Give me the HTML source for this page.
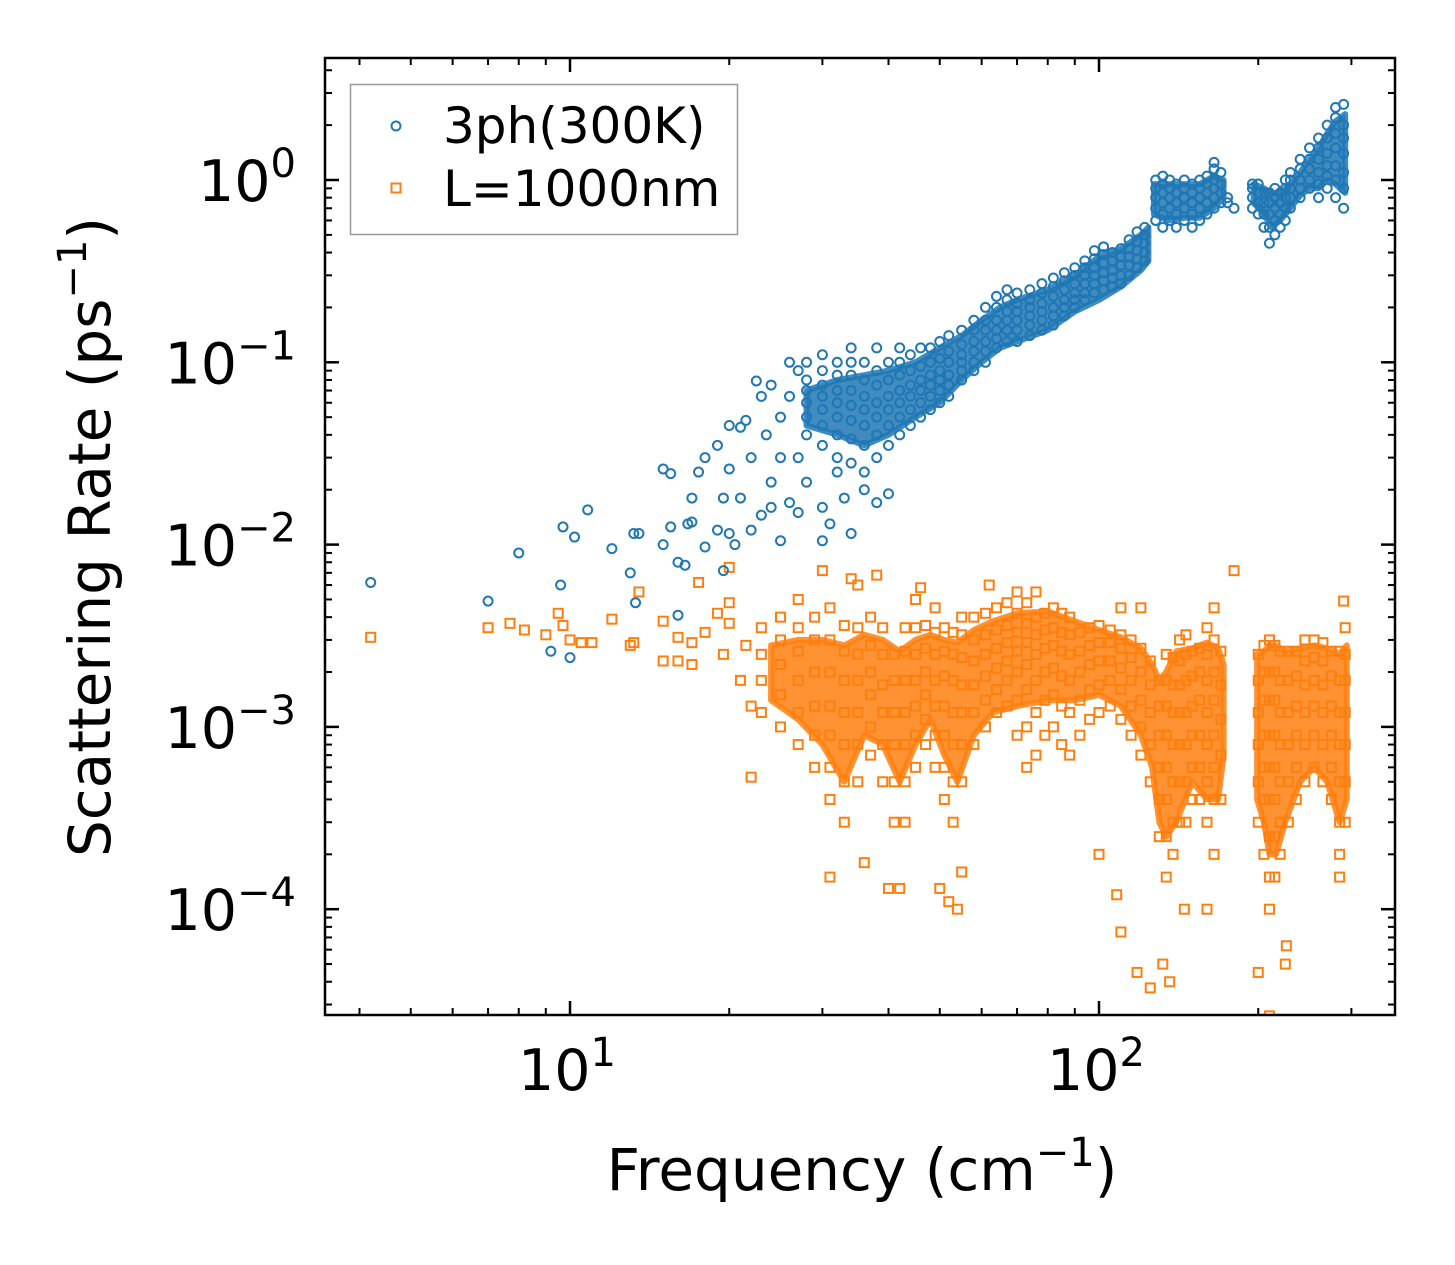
<!DOCTYPE html>
<html><head><meta charset="utf-8">
<style>
html,body{margin:0;padding:0;background:#fff;}
svg{display:block;font-family:"DejaVu Sans","Liberation Sans",sans-serif;}
</style></head>
<body>
<svg id="chart" width="1455" height="1265" viewBox="0 0 1455 1265" xmlns="http://www.w3.org/2000/svg">
<rect width="1455" height="1265" fill="#fff"/>
<defs><clipPath id="plotclip"><rect x="325" y="58" width="1070" height="957"/></clipPath></defs>
<g id="marks" clip-path="url(#plotclip)"></g>
<g id="ticks"></g>
<rect x="325" y="58" width="1070" height="957" fill="none" stroke="#000" stroke-width="2.5"/>
<text x="862" y="1190" font-size="58" text-anchor="middle">Frequency (cm<tspan dy="-24" font-size="40">−1</tspan><tspan dy="24">)</tspan></text>
<text transform="translate(110,537) rotate(-90)" font-size="58" text-anchor="middle">Scattering Rate (ps<tspan dy="-24" font-size="40">−1</tspan><tspan dy="24">)</tspan></text>
<g>
<rect x="350.5" y="84.5" width="387" height="150" fill="#fff" stroke="#999" stroke-width="1.5"/>
<circle cx="396" cy="126" r="4.5" fill="none" stroke="#1f77b4" stroke-width="2"/>
<text x="443" y="143" font-size="50">3ph(300K)</text>
<rect x="391.5" y="183.5" width="9" height="9" fill="none" stroke="#ff7f0e" stroke-width="2"/>
<text x="443" y="206" font-size="50">L=1000nm</text>
</g>
</svg>
<script>
const xTickDecades = [1, 2];
const xTickLabels = ["1", "2"];
const yTickDecades = [0, -1, -2, -3, -4];
const yTickLabels = ["0", "−1", "−2", "−3", "−4"];
const blueScatter = [[4.2,.0062],[7,.0049],[8,.009],[9.2,.0026],[9.6,.006],[9.7,.0125],[10,.0024],[10.2,.011],[10.8,.0155],[12,.0095],[13,.007],[13.2,.0115],[13.5,.0115],[13.3,.0048],[15,.01],[15,.026],[15.5,.0125],[15.5,.0245],[16,.008],[16.5,.0077],[16.7,.013],[17,.018],[17,.0133],[17.5,.025],[18,.0097],[18,.03],[19,.012],[19,.035],[19.5,.018],[19.5,.0072],[20,.026],[20,.045],[20.5,.01],[21,.044],[21,.018],[21.5,.048],[22,.012],[22,.03],[22.5,.079],[23,.065],[23,.0145],[23.5,.04],[24,.022],[24,.075],[25,.05],[25,.03],[25,.0105],[26,.1],[26,.065],[26,.017],[27,.09],[27,.03],[27,.015],[30,.016],[31,.013],[33,.018],[34,.0115],[36,.02],[38,.017],[40,.019],[30,.0105],[16,.0041],[20,.0115],[24,.016],[28,.022],[32,.025]];
const blueFreqs = [28,30,32,34,36,38,40,42,44,46,48,50,52,55,58,61,64,67,70,74,78,82,86,90,94,98,102,106,110,114,118,122,128,132,136,140,145,150,155,160,165,170,175,180,195,200,205,210,215,220,225,230,240,250,260,270,280,290];
const blueRates = [[.04,.05,.06,.07,.08,.1],[.035,.045,.055,.065,.075,.09,.11],[.03,.04,.05,.06,.07,.085,.1],[.028,.038,.048,.058,.07,.085,.1,.12],[.025,.035,.045,.055,.065,.08,.1],[.03,.04,.05,.06,.075,.09,.12],[.035,.045,.055,.065,.08,.1],[.04,.05,.06,.07,.085,.1,.12],[.045,.055,.065,.075,.09,.11],[.05,.06,.07,.08,.095,.12],[.055,.065,.075,.085,.1,.12],[.06,.07,.08,.09,.105,.13],[.065,.075,.085,.1,.115,.14],[.08,.09,.1,.11,.125,.15],[.09,.1,.115,.13,.15,.17],[.1,.115,.13,.15,.17,.2],[.12,.135,.15,.17,.2,.23],[.13,.15,.17,.19,.22,.25],[.13,.15,.17,.19,.21,.24],[.14,.16,.18,.2,.22,.25],[.15,.17,.19,.21,.24,.27],[.16,.18,.2,.23,.26,.29],[.18,.2,.22,.25,.28,.31],[.2,.22,.24,.27,.3,.33],[.22,.24,.27,.3,.33,.36],[.24,.27,.3,.33,.37,.41],[.25,.28,.31,.35,.39,.43],[.26,.29,.32,.36,.4],[.27,.3,.34,.38,.42],[.3,.34,.38,.42,.47],[.33,.37,.41,.46,.52],[.36,.4,.45,.5,.55],[.6,.7,.8,.9,1.0],[.55,.65,.75,.85,.95,1.05],[.6,.7,.8,.9,1.0],[.55,.65,.75,.85,.95],[.6,.7,.8,.9,1.0],[.55,.65,.75,.85,.95],[.6,.7,.8,.9,1.0],[.65,.75,.85,.95,1.05],[.7,.8,.9,1.0,1.15,1.25],[.75,.85,.95,1.1],[.75,.8],[.7],[.7,.8,.9,.95],[.65,.75,.85,.95],[.55,.65,.75,.85],[.45,.55,.65,.75,.85],[.5,.6,.7,.8,.9],[.55,.65,.75,.85],[.6,.7,.8,.9,1.0],[.7,.8,.9,1.0,1.1],[.8,.9,1.0,1.15,1.3],[.9,1.0,1.15,1.3,1.5],[.8,.95,1.1,1.3,1.5,1.7],[.9,1.05,1.2,1.4,1.7,2.0],[.8,1.0,1.2,1.5,1.8,2.2,2.5],[.7,.9,1.1,1.4,1.7,2.0,2.6]];
const blueBandFreqs = [[28,32,36,40,45,50,55,60,65,70,80,90,100,110,120,124],[127,135,145,155,165,172],[196,205,212,220,230,240,250,260,270,280,292]];
const blueBandLow = [[.045,.04,.035,.04,.05,.06,.08,.1,.12,.13,.15,.19,.22,.26,.32,.36],[.65,.6,.62,.62,.7,.8],[.75,.65,.55,.6,.7,.82,.9,.9,1.0,.95,.85]];
const blueBandHigh = [[.07,.08,.085,.09,.1,.12,.14,.17,.2,.22,.25,.3,.38,.42,.5,.55],[.95,.95,.95,.95,1.05,1.0],[.95,.9,.85,.85,.95,1.1,1.3,1.5,1.8,2.1,2.3]];
const orangeScatter = [[4.2,.0031],[7,.0035],[7.7,.0037],[8.2,.0034],[9,.0032],[9.5,.0042],[9.7,.0036],[10,.003],[10.5,.0029],[11,.0029],[12,.0039],[13,.0028],[13.2,.0029],[13.5,.0055],[15,.0023],[15,.0038],[16,.0031],[16,.0023],[17,.0029],[17,.0022],[17.5,.0062],[18,.0033],[19,.0042],[19.5,.0025],[20,.0075],[20,.0037],[20,.0048],[21,.0018],[22,.0013],[22,.00053],[21.5,.0028],[31,.00015],[36,.00018],[40,.00013],[42,.00013],[50,.00013],[52,.00011],[54,.0001],[55,.00016],[100,.0002],[108,.00012],[110,.000075],[118,.000045],[125,.000037],[132,.00005],[136,.00004],[145,.0001],[160,.0001],[180,.0072],[200,.000045],[210,.000026],[225,.00005],[226,.000063],[285,.00015],[290,.0049],[110,.0045],[120,.0045],[165,.0045],[30,.0072],[34,.0065],[38,.0068],[46,.0058],[62,.006]];
const orangeFreqs = [23,25,27,29,31,33,35,37,39,41,43,45,47,49,51,53,55,58,61,64,67,70,73,76,79,82,85,88,92,96,100,105,110,115,120,125,130,134,138,142,146,150,155,160,165,170,200,205,210,215,220,228,236,245,255,265,275,285,292];
const orangeRates = [[.0012,.0018,.0025,.0035],[.001,.0015,.0022,.003,.004],[.0008,.0012,.0018,.0026,.0035,.005],[.0006,.0009,.0013,.002,.003,.004],[.0004,.0006,.0009,.0013,.002,.003,.0045],[.0003,.0005,.0008,.0012,.0018,.0026,.0036],[.0005,.0008,.0012,.0018,.0025,.0035,.006],[.0007,.001,.0015,.002,.0028,.004],[.0005,.0008,.0012,.0017,.0025,.0035],[.0003,.0005,.0008,.0012,.0018,.0025],[.0003,.0005,.0008,.0012,.0018,.0026,.0035],[.0006,.0009,.0013,.0018,.0025,.0035,.005],[.0008,.0011,.0015,.002,.0027,.0036],[.0006,.0009,.0013,.0018,.0025,.0033,.0045],[.0004,.0006,.0009,.0013,.0019,.0026,.0035],[.0003,.0005,.0008,.0012,.0018,.0025,.0033],[.0005,.0008,.0012,.0017,.0024,.0032,.004],[.0008,.0012,.0017,.0023,.003,.004],[.001,.0014,.0019,.0025,.0032,.0042],[.0012,.0016,.0021,.0027,.0034,.0045],[.0013,.0018,.0023,.0029,.0036,.0048],[.0009,.0014,.002,.0026,.0033,.0042,.0055],[.0006,.001,.0016,.0022,.0029,.0037,.0048],[.0007,.0012,.0018,.0025,.0032,.004,.0055],[.0009,.0014,.002,.0027,.0034,.0042],[.001,.0015,.0021,.0028,.0035,.0045],[.0008,.0013,.0019,.0026,.0033,.0042],[.0007,.0012,.0018,.0025,.0032,.004],[.0009,.0014,.002,.0026,.0033],[.0011,.0016,.0022,.0028,.0035],[.0012,.0017,.0023,.0029,.0036],[.0013,.0018,.0023,.0029,.0034],[.0011,.0016,.0021,.0027,.0032],[.0009,.0013,.0018,.0024,.003],[.0007,.001,.0014,.002,.0027],[.0005,.0008,.0012,.0017,.0023],[.00025,.0004,.0006,.0009,.0013,.0018],[.00015,.00025,.0004,.0006,.0009,.0013,.0018,.0025],[.0002,.0003,.0005,.0008,.0012,.0017,.0024],[.0003,.0005,.0008,.0012,.0017,.0023,.003],[.0003,.0005,.0008,.0012,.0018,.0025,.0032],[.0004,.0006,.0009,.0013,.0019,.0026],[.0004,.0006,.0009,.0014,.002,.0027],[.0003,.0005,.0008,.0012,.0018,.0025,.0035],[.0002,.0004,.0006,.0009,.0014,.002,.003],[.0004,.0007,.0011,.0017,.0026],[.0003,.0005,.0008,.0012,.0018,.0025],[.0002,.0004,.0006,.0009,.0014,.002,.0028],[.0001,.00015,.00025,.0004,.0006,.0009,.0014,.002,.003],[.00015,.00025,.0004,.0006,.0009,.0014,.002,.0028],[.0002,.0003,.0005,.0008,.0012,.0018,.0026],[.0003,.0005,.0008,.0012,.0018,.0026],[.0004,.0006,.0009,.0013,.0019,.0026],[.0005,.0008,.0012,.0017,.0023,.003],[.0006,.0009,.0013,.0018,.0024,.003],[.0005,.0008,.0012,.0017,.0023,.0029],[.0004,.0006,.0009,.0013,.0019,.0026],[.0002,.0003,.0005,.0008,.0012,.0018,.0026],[.0003,.0005,.0008,.0012,.0018,.0025,.0035]];
const orangeBandFreqs = [[24,27,30,33,36,39,42,45,48,51,54,58,63,70,80,90,100,110,120,126,130,134,140,150,160,168,172],[199,205,210,216,225,240,255,270,285,294]];
const orangeBandLow = [[.0014,.0011,.0008,.0005,.0009,.0008,.0005,.0008,.0011,.0007,.0005,.0009,.0012,.0013,.0014,.0014,.0015,.0013,.0009,.0006,.0003,.00025,.0003,.0005,.0004,.0004,.0007],[.0004,.0003,.0002,.0002,.0003,.0005,.0006,.0005,.0003,.0004]];
const orangeBandHigh = [[.0028,.003,.003,.0028,.0032,.003,.0026,.003,.0032,.003,.0029,.0034,.0038,.0042,.0043,.0038,.0034,.0031,.0027,.0022,.0018,.002,.0026,.0027,.0029,.0027,.0022],[.0025,.0026,.0028,.0028,.0026,.0027,.0028,.0027,.0025,.0028]];

const NS = "http://www.w3.org/2000/svg";
const X0 = 325, X1 = 1395, Y0 = 58, Y1 = 1015;
const xDec = 529, x10 = 570;
const yDec = 182.3, y1 = 180;
function xs(f){ return x10 + (Math.log10(f) - 1) * xDec; }
function ys(v){ return y1 - Math.log10(v) * yDec; }
function mk(tag, attrs, parent){ const e = document.createElementNS(NS, tag); for (const k in attrs) e.setAttribute(k, attrs[k]); parent.appendChild(e); return e; }

const marks = document.getElementById('marks');
const gO = mk('g', {}, marks);


const gB = mk('g', {}, marks);



function band(freqSegs, lowSegs, highSegs, color, parent, name){
  freqSegs.forEach((fs, s) => {
    let d = '';
    fs.forEach((f, i) => { d += (i ? 'L' : 'M') + xs(f).toFixed(1) + ',' + ys(highSegs[s][i]).toFixed(1); });
    for (let i = fs.length - 1; i >= 0; i--) d += 'L' + xs(fs[i]).toFixed(1) + ',' + ys(lowSegs[s][i]).toFixed(1);
    d += 'Z';
    const p = mk('path', {d: d, fill: color, 'fill-opacity': 0.85, stroke: color, 'stroke-width': 6, 'stroke-linejoin': 'round', 'stroke-opacity': 0.85}, parent);
    
    
  });
}
function orangePt(f, v){
  const x = xs(f), y = ys(v);
  const r = mk('rect', {x: x-4.5, y: y-4.5, width: 9, height: 9, fill: 'none', stroke: '#ff7f0e', 'stroke-width': 2}, gO);
  
  
}
function bluePt(f, v){
  const x = xs(f), y = ys(v);
  const c = mk('circle', {cx: x, cy: y, r: 4.5, fill: 'none', stroke: '#1f77b4', 'stroke-width': 2}, gB);
  
  
}
band(orangeBandFreqs, orangeBandLow, orangeBandHigh, '#ff7f0e', gO, 'dense-cloud-l1000nm');
orangeScatter.forEach(p => orangePt(p[0], p[1]));
orangeFreqs.forEach((f, i) => orangeRates[i].forEach(v => orangePt(f, v)));
band(blueBandFreqs, blueBandLow, blueBandHigh, '#1f77b4', gB, 'dense-cloud-3ph');
blueScatter.forEach(p => bluePt(p[0], p[1]));
blueFreqs.forEach((f, i) => blueRates[i].forEach(v => bluePt(f, v)));

const ticks = document.getElementById('ticks');
function tick(x1, y1_, x2, y2, w){ mk('line', {x1: x1, y1: y1_, x2: x2, y2: y2, stroke: '#000', 'stroke-width': w}, ticks); }
for (let d = 0; d <= 3; d++) {
  for (let m = 1; m <= 9; m++) {
    const x = xs(m * Math.pow(10, d));
    if (x < X0 || x > X1) continue;
    const L = m === 1 ? 14 : 7, w = m === 1 ? 2.5 : 2;
    tick(x, Y1, x, Y1 - L, w);
    tick(x, Y0, x, Y0 + L, w);
  }
}
xTickDecades.forEach((d, i) => {
  const t = mk('text', {x: xs(Math.pow(10, d)) - 3, y: 1090, 'font-size': 57, 'text-anchor': 'middle'}, ticks);
  
  
  t.innerHTML = '10<tspan dy="-24" font-size="40">' + xTickLabels[i] + '</tspan>';
});
for (let d = -5; d <= 0; d++) {
  for (let m = 1; m <= 9; m++) {
    const y = ys(m * Math.pow(10, d));
    if (y < Y0 || y > Y1) continue;
    const L = m === 1 ? 14 : 7, w = m === 1 ? 2.5 : 2;
    tick(X0, y, X0 + L, y, w);
    tick(X1, y, X1 - L, y, w);
  }
}
yTickDecades.forEach((d, i) => {
  const t = mk('text', {x: 296, y: ys(Math.pow(10, d)) + 21, 'font-size': 57, 'text-anchor': 'end'}, ticks);
  
  
  t.innerHTML = '10<tspan dy="-24" font-size="40">' + yTickLabels[i] + '</tspan>';
});
</script>
</body></html>
